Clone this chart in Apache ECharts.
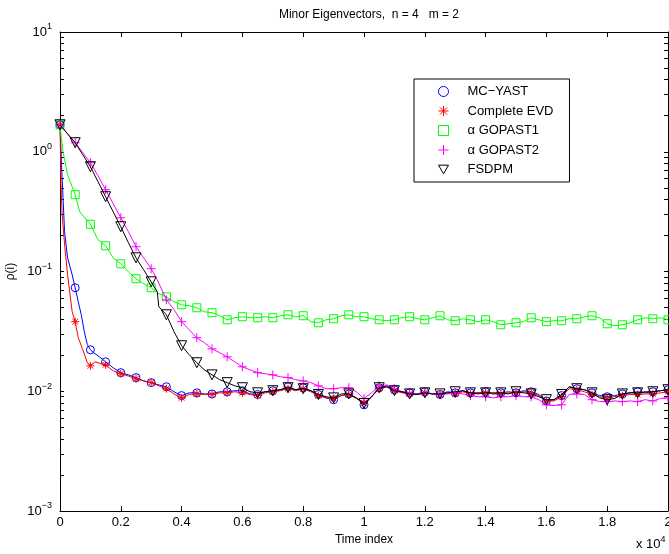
<!DOCTYPE html>
<html>
<head>
<meta charset="utf-8">
<script src="https://cdn.jsdelivr.net/npm/echarts@6/dist/echarts.min.js"></script>
<style>
html,body{margin:0;padding:0;background:#fff;}
#chart{width:669px;height:554px;}
</style>
</head>
<body>
<div id="chart"></div>
<script>
// ---- data (time index in units of 10^4) ----
const xTicks = ['0','0.2','0.4','0.6','0.8','1','1.2','1.4','1.6','1.8','2'];
const timeTail = [0.325,0.35,0.375,0.4,0.425,0.45,0.475,0.5,0.525,0.55,
  0.575,0.6,0.625,0.65,0.675,0.7,0.725,0.75,0.775,0.8,
  0.825,0.85,0.875,0.9,0.925,0.95,0.975,1.0,1.025,1.05,
  1.075,1.1,1.125,1.15,1.175,1.2,1.225,1.25,1.275,1.3,
  1.325,1.35,1.375,1.4,1.425,1.45,1.475,1.5,1.525,1.55,
  1.575,1.6,1.625,1.65,1.675,1.7,1.725,1.75,1.775,1.8,
  1.825,1.85,1.875,1.9,1.925,1.95,1.975,2.0];

// MC-YAST
const mcHeadT = [0,0.005,0.01,0.015,0.025,0.04,0.05,0.06,0.07,0.08,0.09,0.1,0.11,0.125,0.15,0.175,0.2,0.225,0.25,0.275,0.3];
const mcHeadV = [1.68,0.779,0.413,0.215,0.130,0.094,0.0732,0.0559,0.0435,0.0314,0.0245,0.0222,0.0210,0.0198,0.0176,0.0157,0.0143,0.0137,0.0130,0.0122,0.0118];
const mcTailV = [0.0113,0.0109,0.0099,0.0092,0.0097,0.0097,0.0095,0.0095,0.0099,0.0099,
  0.0101,0.0101,0.0095,0.0094,0.0099,0.0101,0.0103,0.0109,0.0103,0.0107,
  0.0101,0.0094,0.0088,0.0085,0.0092,0.0095,0.0088,0.0077,0.0090,0.0107,
  0.0111,0.0103,0.0099,0.0097,0.0095,0.0099,0.0095,0.0094,0.0099,0.0097,
  0.0101,0.0097,0.0097,0.0099,0.0095,0.0097,0.0099,0.0097,0.0101,0.0099,
  0.0094,0.0083,0.0085,0.0092,0.0109,0.0105,0.0103,0.0097,0.0092,0.0090,
  0.0092,0.0095,0.0097,0.0099,0.0097,0.0099,0.0101,0.0103];

// Complete EVD
const evdHeadT = [0,0.003,0.007,0.016,0.025,0.04,0.05,0.06,0.075,0.09,0.1,0.115,0.15,0.175,0.2,0.225,0.25,0.275,0.3];
const evdHeadV = [1.68,0.562,0.298,0.158,0.094,0.0461,0.0381,0.0280,0.0222,0.0173,0.0163,0.0176,0.0166,0.0148,0.0140,0.0134,0.0127,0.0122,0.0118];
const evdTailV = [0.0111,0.0105,0.0095,0.0088,0.0094,0.0095,0.0094,0.0094,0.0097,0.0097,
  0.0099,0.0097,0.0094,0.0092,0.0097,0.0099,0.0101,0.0105,0.0101,0.0105,
  0.0099,0.0092,0.0088,0.0087,0.0092,0.0094,0.0087,0.0080,0.0090,0.0105,
  0.0109,0.0101,0.0097,0.0095,0.0094,0.0097,0.0095,0.0094,0.0097,0.0095,
  0.0099,0.0095,0.0097,0.0097,0.0095,0.0095,0.0097,0.0097,0.0099,0.0097,
  0.0092,0.0083,0.0083,0.0090,0.0105,0.0103,0.0099,0.0094,0.0090,0.0088,
  0.0090,0.0092,0.0094,0.0094,0.0095,0.0095,0.0097,0.0099];

// alpha GOPAST1
const gp1HeadT = [0,0.005,0.01,0.025,0.05,0.065,0.1,0.125,0.15,0.175,0.2,0.225,0.25,0.275,0.3];
const gp1HeadV = [1.68,1.26,1.0,0.642,0.438,0.315,0.248,0.184,0.164,0.130,0.116,0.0995,0.087,0.079,0.0732];
const gp1TailV = [0.0652,0.0615,0.0559,0.0527,0.0518,0.0498,0.0461,0.0453,0.0427,0.0395,
  0.0411,0.0419,0.0411,0.0411,0.0419,0.0411,0.0427,0.0435,0.0419,0.0427,
  0.0381,0.0373,0.0395,0.0403,0.0427,0.0435,0.0419,0.0419,0.0403,0.0395,
  0.0388,0.0395,0.0411,0.0419,0.0403,0.0395,0.0411,0.0427,0.0395,0.0388,
  0.0403,0.0395,0.0381,0.0395,0.0381,0.0359,0.0366,0.0373,0.0381,0.0411,
  0.0395,0.0381,0.0388,0.0388,0.0403,0.0403,0.0419,0.0427,0.0411,0.0366,
  0.0352,0.0359,0.0373,0.0395,0.0411,0.0403,0.0411,0.0395];

// alpha GOPAST2
const gp2HeadT = [0,0.025,0.05,0.075,0.1,0.125,0.15,0.175,0.2,0.225,0.25,0.275,0.3,0.32];
const gp2HeadV = [1.68,1.41,1.19,0.981,0.81,0.630,0.482,0.368,0.281,0.215,0.161,0.130,0.1055,0.0853];
const gp2TailV = [0.080,0.058,0.048,0.0381,0.0326,0.0280,0.0254,0.0226,0.0210,0.0194,
  0.0176,0.0160,0.0151,0.0143,0.0140,0.0137,0.0132,0.0130,0.0125,0.0122,
  0.0118,0.0111,0.0105,0.0105,0.0107,0.0107,0.0099,0.0087,0.0097,0.0111,
  0.0113,0.0105,0.0099,0.0097,0.0094,0.0097,0.0095,0.0094,0.0095,0.0097,
  0.0095,0.0092,0.0090,0.0090,0.0088,0.0090,0.0090,0.0092,0.0090,0.0090,
  0.0085,0.0077,0.0076,0.0077,0.0094,0.0095,0.0094,0.0085,0.0082,0.0082,
  0.0083,0.0082,0.0083,0.0082,0.0085,0.0083,0.0087,0.0088];

// FSDPM
const fsHeadT = [0,0.025,0.05,0.075,0.1,0.125,0.15,0.175,0.2,0.225,0.25,0.275,0.3,0.32];
const fsHeadV = [1.68,1.41,1.19,0.944,0.75,0.562,0.421,0.315,0.2365,0.174,0.130,0.1035,0.082,0.0678];
const fsTailV = [0.0508,0.0435,0.0314,0.0240,0.0202,0.0173,0.0151,0.0137,0.0125,0.0118,
  0.0111,0.0107,0.0099,0.0097,0.0099,0.0101,0.0103,0.0107,0.0103,0.0105,
  0.0101,0.0094,0.0090,0.0088,0.0095,0.0095,0.0088,0.0079,0.0090,0.0107,
  0.0109,0.0101,0.0099,0.0095,0.0094,0.0097,0.0095,0.0095,0.0097,0.0099,
  0.0101,0.0097,0.0095,0.0097,0.0097,0.0097,0.0095,0.0099,0.0097,0.0095,
  0.0090,0.0085,0.0085,0.0094,0.0109,0.0105,0.0103,0.0097,0.0088,0.0085,
  0.0087,0.0095,0.0097,0.0097,0.0099,0.0099,0.0101,0.0103];

const seriesNames = ['MC\u2212YAST','Complete EVD','\u03b1 GOPAST1','\u03b1 GOPAST2','FSDPM'];
const seriesColors = ['#0000ff','#ff0000','#00ff00','#ff00ff','#000000'];

// ---- build ----
function pairs(hT, hV, tV) {
  const out = hT.map((t, i) => [t, hV[i]]);
  timeTail.forEach((t, i) => out.push([t, tV[i]]));
  return out;
}
function markerPts(pts) {
  return pts.filter(p => Math.abs(p[0] * 20 - Math.round(p[0] * 20)) < 1e-6);
}
const allData = [
  pairs(mcHeadT, mcHeadV, mcTailV),
  pairs(evdHeadT, evdHeadV, evdTailV),
  pairs(gp1HeadT, gp1HeadV, gp1TailV),
  pairs(gp2HeadT, gp2HeadV, gp2TailV),
  pairs(fsHeadT, fsHeadV, fsTailV)
];
const asterisk = 'path://M5 0L5 10M0 5L10 5M1.5 1.5L8.5 8.5M1.5 8.5L8.5 1.5';
const plus = 'path://M5 0L5 10M0 5L10 5';
const triDown = 'path://M0 0L10 0L5 8.66Z';
const symbols = ['circle', asterisk, 'rect', plus, 'triangle'];
const legendIcons = ['circle', asterisk, 'rect', plus, triDown];
const symSizes = [8, 8, 8, 9, 10];
const symRot = [0, 0, 0, 0, 180];

const FONT = '"Liberation Sans", Arial, Helvetica, sans-serif';
const series = [];
allData.forEach((d, i) => {
  series.push({
    name: seriesNames[i] + ' line', type: 'line', data: d,
    symbol: 'none', showSymbol: false, silent: true,
    lineStyle: { color: seriesColors[i], width: 1 },
    itemStyle: { color: seriesColors[i] },
    z: 2 + i * 2, animation: false
  });
  series.push({
    name: seriesNames[i], type: 'scatter', data: markerPts(d),
    symbol: symbols[i], symbolSize: symSizes[i], symbolRotate: symRot[i],
    itemStyle: { color: 'rgba(255,255,255,0)', borderColor: seriesColors[i], borderWidth: 1, opacity: 1 },
    z: 3 + i * 2, animation: false
  });
});

const minorVals = [];
[0.001, 0.01, 0.1, 1].forEach(b => { for (let k = 1; k <= 9; k++) minorVals.push(+(b * k).toPrecision(3)); });
minorVals.push(10);

function expLabel(v) {
  const e = Math.round(Math.log10(v));
  const s = e < 0 ? '\u2212' + (-e) : String(e);
  return '{b|10}{s|' + s + '}';
}
const richLab = {
  b: { fontSize: 13, fontFamily: FONT, color: '#000' },
  s: { fontSize: 9, fontFamily: FONT, color: '#000', padding: [0, 0, 10, 0] }
};

const chart = echarts.init(document.getElementById('chart'), null, { renderer: 'canvas' });
chart.setOption({
  animation: false,
  backgroundColor: '#fff',
  title: {
    text: 'Minor Eigenvectors,  n = 4   m = 2',
    left: 364, top: 4, textAlign: 'center',
    textStyle: { fontSize: 12, fontWeight: 'normal', color: '#000', fontFamily: FONT }
  },
  grid: { left: 60, right: 1, top: 32, bottom: 43, containLabel: false, outerBoundsMode: 'none' },
  legend: {
    data: seriesNames.map((n, i) => ({
      name: n, icon: legendIcons[i],
      itemStyle: { color: 'rgba(255,255,255,0)', borderColor: seriesColors[i], borderWidth: 1 }
    })),
    orient: 'vertical', left: 414, top: 79,
    padding: [6, 16, 6, 24], itemWidth: 10, itemHeight: 10, itemGap: 6.5,
    borderColor: '#000', borderWidth: 1, backgroundColor: '#fff',
    itemStyle: { borderWidth: 1 },
    textStyle: { fontSize: 13, color: '#000', fontFamily: FONT, padding: [0, 0, 0, 14] },
    selectedMode: false
  },
  xAxis: [{
    type: 'value', min: 0, max: 2, interval: 0.2, position: 'bottom',
    name: 'Time index', nameLocation: 'middle', nameGap: 22,
    nameTextStyle: { fontSize: 12, color: '#000', fontFamily: FONT },
    axisLine: { show: true, onZero: false, lineStyle: { color: '#000', width: 1 } },
    axisTick: { show: true, inside: true, length: 5, lineStyle: { color: '#000' } },
    axisLabel: { color: '#000', fontSize: 13, fontFamily: FONT, margin: 5,
      formatter: (v) => xTicks[Math.round(v / 0.2)] },
    splitLine: { show: false }
  }, {
    type: 'value', min: 0, max: 2, interval: 0.2, position: 'top',
    axisLine: { show: true, onZero: false, lineStyle: { color: '#000', width: 1 } },
    axisTick: { show: true, inside: true, length: 5, lineStyle: { color: '#000' } },
    axisLabel: { show: false }, splitLine: { show: false }
  }],
  yAxis: [{
    type: 'log', logBase: 10, min: 0.001, max: 10, position: 'left',
    name: '\u03c1(i)', nameLocation: 'middle', nameGap: 41, nameRotate: 90,
    nameTextStyle: { fontSize: 12, color: '#000', fontFamily: FONT },
    axisLine: { show: true, onZero: false, lineStyle: { color: '#000', width: 1 } },
    axisTick: { show: true, inside: true, length: 4, customValues: minorVals, lineStyle: { color: '#000' } },
    axisLabel: { margin: 8, formatter: expLabel, rich: richLab },
    splitLine: { show: false }, minorTick: { show: false }
  }, {
    type: 'log', logBase: 10, min: 0.001, max: 10, position: 'right',
    axisLine: { show: true, onZero: false, lineStyle: { color: '#000', width: 1 } },
    axisTick: { show: true, inside: true, length: 4, customValues: minorVals, lineStyle: { color: '#000' } },
    axisLabel: { show: false }, splitLine: { show: false }
  }],
  graphic: [{
    type: 'text', left: 636, top: 535,
    style: { text: '{b|x 10}{s|4}', rich: richLab, fill: '#000' }
  }],
  series: series
});
</script>
</body>
</html>
